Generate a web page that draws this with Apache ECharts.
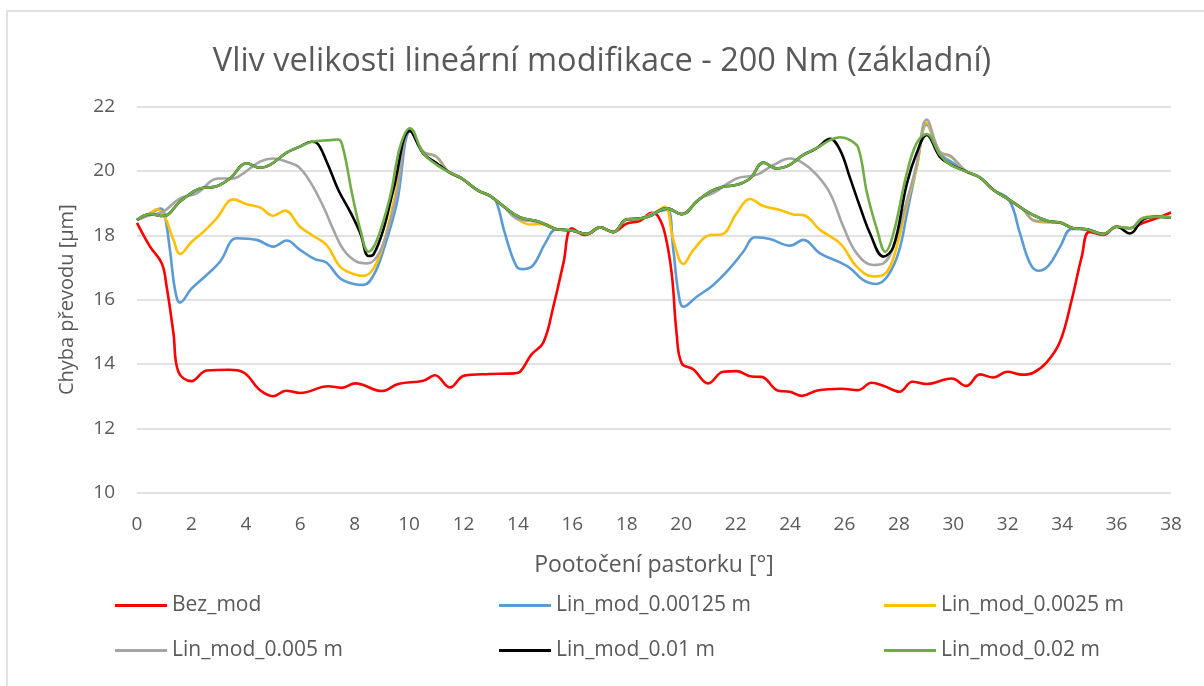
<!DOCTYPE html>
<html>
<head>
<meta charset="utf-8">
<script src="https://cdn.jsdelivr.net/npm/echarts@6/dist/echarts.min.js"></script>
<style>
  html, body { margin: 0; padding: 0; background: #fff; }
  #chart { width: 1204px; height: 686px; }
</style>
</head>
<body>
<div id="chart"></div>
<script>
// Transmission error vs. pinion rotation, one curve per linear-modification size
const titleText = 'Vliv velikosti lineární modifikace - 200 Nm (základní)';
const xAxisName = 'Pootočení pastorku [°]';
const yAxisName = 'Chyba převodu [µm]';
const seriesNames = ['Bez_mod', 'Lin_mod_0.00125 m', 'Lin_mod_0.0025 m', 'Lin_mod_0.005 m', 'Lin_mod_0.01 m', 'Lin_mod_0.02 m'];
const seriesColors = ['#ff0000', '#5b9bd5', '#ffc000', '#a5a5a5', '#000000', '#70ad47'];

// [angle in °, error in µm]
const bezMod = [
  [0, 18.39], [0.48, 17.65], [0.91, 17.13], [1.09, 16.4], [1.34, 14.95], [1.52, 13.76], [2.0, 13.47],
  [2.56, 13.8], [3.4, 13.82], [3.95, 13.72], [4.5, 13.2], [5.01, 13.0], [5.47, 13.17], [6.0, 13.1],
  [7.03, 13.31], [7.52, 13.26], [8.02, 13.4], [9.0, 13.16], [9.6, 13.38], [10.52, 13.48], [10.95, 13.65],
  [11.5, 13.27], [12.03, 13.64], [12.97, 13.69], [13.86, 13.71], [14.08, 13.76], [14.5, 14.3], [14.93, 14.66],
  [15.3, 15.78], [15.67, 17.13], [15.98, 18.22], [16.46, 18.01], [17.02, 18.25], [17.5, 18.11], [18.0, 18.37],
  [18.49, 18.45], [18.92, 18.7], [19.16, 18.58], [19.4, 18.06], [19.65, 16.82], [19.83, 14.96], [20.02, 14.02],
  [20.44, 13.84], [20.99, 13.4], [21.54, 13.76], [22.04, 13.78], [22.59, 13.61], [22.95, 13.6], [23.57, 13.17],
  [23.99, 13.14], [24.45, 13.01], [25.0, 13.18], [25.9, 13.23], [26.5, 13.19], [27.0, 13.42], [27.45, 13.32],
  [28.02, 13.14], [28.5, 13.45], [29.0, 13.38], [29.94, 13.55], [30.48, 13.32], [30.98, 13.68], [31.47, 13.58],
  [31.98, 13.76], [32.55, 13.67], [32.94, 13.73], [33.43, 14.05], [33.92, 14.69], [34.35, 15.99], [34.72, 17.34],
  [35.0, 18.11], [35.51, 18.01], [36.0, 18.27], [36.49, 18.22], [36.98, 18.39], [37.47, 18.53], [38.0, 18.71]
];

const lin00125 = [
  [0, 18.48], [0.5, 18.68], [0.85, 18.83], [1.0, 18.7], [1.21, 17.55], [1.4, 16.3], [1.58, 15.91], [2.01, 16.35],
  [2.56, 16.77], [3.05, 17.18], [3.66, 17.91], [4.4, 17.86], [5.01, 17.65], [5.5, 17.84], [5.99, 17.55],
  [6.54, 17.26], [6.97, 17.15], [7.46, 16.67], [7.96, 16.49], [8.33, 16.46], [8.7, 16.77], [9.06, 17.55],
  [9.55, 19.0], [10.05, 21.25], [10.52, 20.55], [11.0, 20.25], [11.44, 19.98], [11.93, 19.77], [12.54, 19.39],
  [12.97, 19.23], [13.2, 19.05], [13.52, 18.06], [13.95, 17.03], [14.2, 16.95], [14.57, 17.08], [15.0, 17.75],
  [15.42, 18.19], [15.98, 18.15], [16.53, 18.04], [17.02, 18.25], [17.5, 18.1], [18.0, 18.5], [18.49, 18.52],
  [18.85, 18.6], [19.2, 18.75], [19.5, 18.8], [19.71, 17.55], [19.9, 16.2], [20.08, 15.78], [20.57, 16.09],
  [21.18, 16.46], [21.79, 16.98], [22.28, 17.49], [22.71, 17.94], [23.26, 17.89], [24.0, 17.68], [24.49, 17.86],
  [25.1, 17.44], [25.84, 17.16], [26.21, 16.98], [26.69, 16.61], [27.18, 16.49], [27.6, 16.75], [28.0, 17.5],
  [28.3, 18.7], [28.65, 20.1], [29.02, 21.45], [29.5, 20.55], [29.9, 20.3], [30.49, 19.98], [30.98, 19.8],
  [31.48, 19.41], [32.05, 19.1], [32.45, 18.06], [32.82, 17.13], [33.12, 16.9], [33.5, 17.06], [33.93, 17.65],
  [34.35, 18.2], [34.9, 18.19], [35.51, 18.04], [36.0, 18.27], [36.49, 18.22], [36.98, 18.5], [37.47, 18.58],
  [38.0, 18.56]
];

const lin0025 = [
  [0, 18.48], [0.5, 18.7], [0.72, 18.81], [0.99, 18.63], [1.34, 17.86], [1.58, 17.42], [2.01, 17.8],
  [2.44, 18.11], [2.93, 18.53], [3.54, 19.12], [4.03, 18.97], [4.52, 18.87], [5.01, 18.61], [5.44, 18.77],
  [5.99, 18.27], [6.48, 17.98], [6.97, 17.7], [7.46, 17.03], [7.96, 16.8], [8.33, 16.74], [8.7, 16.98],
  [9.06, 17.75], [9.5, 19.3], [10.03, 21.3], [10.52, 20.6], [11.0, 20.45], [11.44, 19.98], [11.93, 19.77],
  [12.54, 19.39], [12.97, 19.23], [13.46, 18.91], [14.0, 18.5], [14.44, 18.34], [15.0, 18.35], [15.42, 18.19],
  [15.98, 18.15], [16.53, 18.04], [17.02, 18.25], [17.5, 18.1], [18.0, 18.5], [18.49, 18.52], [19.0, 18.7],
  [19.4, 18.89], [19.71, 17.86], [20.08, 17.11], [20.45, 17.55], [21.06, 18.01], [21.49, 18.03], [22.04, 18.69],
  [22.53, 19.13], [23.02, 18.91], [23.63, 18.79], [24.12, 18.65], [24.49, 18.63], [25.1, 18.17], [25.84, 17.75],
  [26.45, 17.03], [27.06, 16.72], [27.43, 16.77], [27.8, 17.3], [28.3, 19.0], [28.65, 20.1], [29.02, 21.5],
  [29.5, 20.6], [29.9, 20.45], [30.49, 19.98], [30.98, 19.8], [31.48, 19.41], [31.97, 19.15], [32.52, 18.84],
  [33.0, 18.45], [33.55, 18.4], [33.92, 18.4], [34.41, 18.22], [34.9, 18.19], [35.51, 18.04], [36.0, 18.27],
  [36.49, 18.22], [36.98, 18.55], [37.47, 18.6], [38.0, 18.56]
];

const lin005 = [
  [0, 18.48], [0.5, 18.63], [0.97, 18.74], [1.58, 19.15], [2.19, 19.31], [3.0, 19.77], [3.54, 19.77],
  [3.91, 19.93], [4.52, 20.29], [5.01, 20.39], [5.5, 20.29], [5.93, 20.13], [6.36, 19.67], [6.85, 18.89],
  [7.22, 18.17], [7.59, 17.55], [8.08, 17.18], [8.45, 17.13], [8.82, 17.34], [9.18, 18.06], [9.55, 19.31],
  [10.03, 21.3], [10.52, 20.6], [11.0, 20.45], [11.44, 19.98], [11.93, 19.77], [12.54, 19.39], [12.97, 19.23],
  [13.46, 18.91], [14.0, 18.5], [14.5, 18.45], [15.0, 18.35], [15.42, 18.19], [15.98, 18.15], [16.53, 18.04],
  [17.02, 18.25], [17.5, 18.1], [18.0, 18.5], [18.49, 18.52], [19.0, 18.7], [19.47, 18.84], [20.02, 18.66],
  [20.69, 19.15], [21.17, 19.31], [22.04, 19.77], [22.77, 19.88], [23.39, 20.19], [24.0, 20.39], [24.49, 20.24],
  [24.98, 19.88], [25.47, 19.31], [25.96, 18.27], [26.45, 17.44], [27.06, 17.08], [27.43, 17.13], [27.8, 17.65],
  [28.3, 19.1], [28.65, 20.2], [29.02, 21.6], [29.5, 20.6], [29.9, 20.47], [30.49, 19.98], [30.98, 19.8],
  [31.48, 19.41], [31.97, 19.15], [32.52, 18.84], [33.0, 18.45], [33.55, 18.43], [33.92, 18.4], [34.41, 18.22],
  [34.9, 18.19], [35.51, 18.04], [36.0, 18.27], [36.49, 18.22], [36.98, 18.55], [37.47, 18.58], [38.0, 18.56]
];

const lin001 = [
  [0, 18.48], [0.48, 18.66], [0.97, 18.6], [1.58, 19.05], [2.07, 19.36], [2.32, 19.46], [2.93, 19.53],
  [3.42, 19.77], [4.03, 20.24], [4.52, 20.1], [4.89, 20.19], [5.5, 20.57], [5.99, 20.76], [6.42, 20.91],
  [6.6, 20.88], [6.97, 20.29], [7.4, 19.41], [7.83, 18.74], [8.21, 18.06], [8.51, 17.36], [8.7, 17.42],
  [9.05, 18.17], [9.42, 19.41], [10.03, 21.25], [10.52, 20.55], [11.0, 20.25], [11.44, 19.98], [11.93, 19.77],
  [12.54, 19.39], [12.97, 19.23], [13.46, 18.91], [14.08, 18.56], [14.75, 18.43], [15.42, 18.19], [15.98, 18.15],
  [16.53, 18.04], [17.02, 18.25], [17.5, 18.1], [18.0, 18.5], [18.49, 18.52], [18.85, 18.6], [19.47, 18.84],
  [20.02, 18.66], [20.57, 19.05], [21.06, 19.36], [21.54, 19.51], [22.04, 19.57], [22.53, 19.77], [23.02, 20.26],
  [23.51, 20.08], [23.9, 20.15], [24.49, 20.5], [24.98, 20.71], [25.47, 21.0], [25.84, 20.65], [26.21, 19.77],
  [26.57, 18.89], [26.94, 18.06], [27.43, 17.34], [27.8, 17.65], [28.29, 19.6], [28.65, 20.55], [29.02, 21.12],
  [29.5, 20.45], [29.9, 20.2], [30.49, 19.98], [30.98, 19.8], [31.48, 19.41], [31.97, 19.15], [32.52, 18.84],
  [32.94, 18.63], [33.55, 18.43], [33.92, 18.4], [34.41, 18.22], [34.9, 18.19], [35.51, 18.04], [36.0, 18.27],
  [36.49, 18.06], [36.98, 18.5], [37.47, 18.58], [38.0, 18.56]
];

const lin002 = [
  [0, 18.48], [0.48, 18.66], [0.97, 18.6], [1.58, 19.05], [2.07, 19.36], [2.32, 19.46], [2.93, 19.53],
  [3.42, 19.77], [4.03, 20.24], [4.52, 20.1], [4.89, 20.19], [5.5, 20.57], [5.99, 20.76], [6.42, 20.91],
  [7.09, 20.96], [7.4, 20.98], [7.59, 20.65], [7.9, 19.31], [8.21, 18.17], [8.51, 17.49], [8.82, 17.86],
  [9.3, 19.2], [9.67, 20.76], [10.03, 21.33], [10.52, 20.55], [11.0, 20.2], [11.44, 19.98], [11.93, 19.77],
  [12.54, 19.39], [12.97, 19.23], [13.46, 18.91], [14.08, 18.56], [14.75, 18.43], [15.42, 18.19], [15.98, 18.15],
  [16.53, 18.04], [17.02, 18.25], [17.5, 18.1], [18.0, 18.5], [18.49, 18.52], [18.85, 18.6], [19.47, 18.84],
  [20.02, 18.66], [20.57, 19.05], [21.06, 19.36], [21.54, 19.51], [22.04, 19.57], [22.53, 19.77], [23.02, 20.26],
  [23.51, 20.08], [23.9, 20.15], [24.49, 20.5], [24.98, 20.71], [25.47, 20.96], [25.84, 21.05], [26.21, 20.96],
  [26.51, 20.71], [26.83, 19.31], [27.2, 18.17], [27.5, 17.49], [27.8, 18.06], [28.29, 19.93], [28.65, 20.86],
  [29.02, 21.15], [29.51, 20.5], [29.9, 20.19], [30.49, 19.98], [30.98, 19.8], [31.48, 19.41], [31.97, 19.15],
  [32.52, 18.84], [32.94, 18.63], [33.55, 18.43], [33.92, 18.4], [34.41, 18.22], [34.9, 18.19], [35.51, 18.04],
  [36.0, 18.27], [36.49, 18.22], [36.98, 18.53], [37.47, 18.58], [38.0, 18.56]
];

const seriesData = [bezMod, lin00125, lin0025, lin005, lin001, lin002];

const textColor = '#595959';
const fontFamily = '"Open Sans", "Noto Sans", sans-serif';

// one legend block per entry, laid out in three columns and two rows
const legendColumns = [110, 494, 879];
const legendRows = [590, 635];
const legends = seriesNames.map((name, i) => ({
  data: [name],
  left: legendColumns[i % 3],
  top: legendRows[Math.floor(i / 3)],
  icon: 'rect',
  itemWidth: 52,
  itemHeight: 3,
  textStyle: { color: textColor, fontSize: 21, fontFamily: fontFamily },
  selectedMode: false
}));

const chart = echarts.init(document.getElementById('chart'), null, { renderer: 'canvas' });
chart.setOption({
  backgroundColor: '#ffffff',
  animation: false,
  title: {
    text: titleText,
    left: 'center',
    top: 40,
    textStyle: { color: textColor, fontSize: 32.5, fontWeight: 'normal', fontFamily: fontFamily }
  },
  graphic: [{
    type: 'rect',
    shape: { x: 7, y: 11, width: 1400, height: 900 },
    style: { fill: 'none', stroke: '#d9d9d9', lineWidth: 1.5 },
    silent: true
  }],
  legend: legends,
  grid: { left: 137, right: 33, top: 106.7, bottom: 193.3 },
  xAxis: {
    type: 'value',
    min: 0,
    max: 38,
    interval: 2,
    name: xAxisName,
    nameLocation: 'middle',
    nameGap: 61,
    nameTextStyle: { color: textColor, fontSize: 23, fontFamily: fontFamily },
    axisLine: { show: false },
    axisTick: { show: false },
    splitLine: { show: false },
    axisLabel: { color: textColor, fontSize: 19, margin: 22, fontFamily: fontFamily }
  },
  yAxis: {
    type: 'value',
    min: 10,
    max: 22,
    interval: 2,
    name: yAxisName,
    nameLocation: 'middle',
    nameGap: 60,
    nameTextStyle: { color: textColor, fontSize: 20, fontFamily: fontFamily },
    axisLine: { show: false },
    axisTick: { show: false },
    splitLine: { lineStyle: { color: '#d9d9d9', width: 1.5 } },
    axisLabel: { color: textColor, fontSize: 19, margin: 22, fontFamily: fontFamily }
  },
  series: seriesNames.map((name, i) => ({
    name: name,
    type: 'line',
    data: seriesData[i],
    smooth: 0.4,
    showSymbol: false,
    color: seriesColors[i],
    lineStyle: { color: seriesColors[i], width: 2.6 },
    z: 2 + i
  }))
});
</script>
</body>
</html>
